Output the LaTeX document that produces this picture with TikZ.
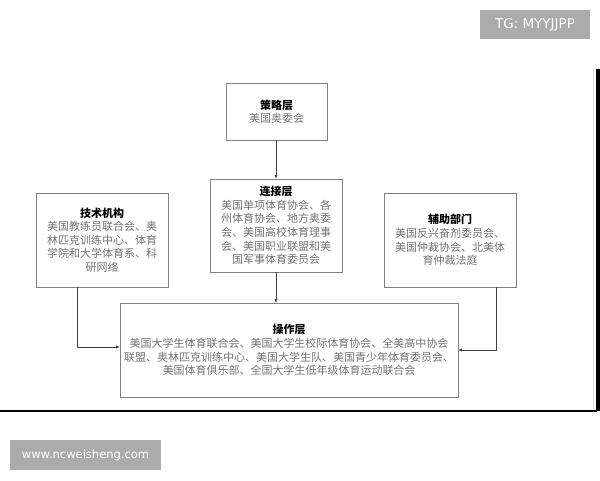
\documentclass[tikz,border=0pt]{standalone}
\usepackage{fontspec}
\newfontfamily\cjk{Noto Sans CJK SC}
\newfontfamily\markfont{DejaVu Sans}
\usepackage{xcolor}
\usepackage{tikz}
\usetikzlibrary{calc,positioning,arrows.meta}

\begin{document}
\begin{tikzpicture}[x=1pt,y=-1pt,
	layerbox/.style={draw=black!50,line width=0.6pt,align=center,inner sep=0pt,
		text=black!55,font=\cjk\fontsize{11}{13.6}\selectfont},
	title/.style={},
	flow/.style={draw=black!75,line width=0.6pt,-{Latex[length=3.5pt,width=3pt]}},
	markbox/.style={fill=black!33,text=white,inner sep=0pt}]
\useasboundingbox (0,0) rectangle (600,480);
		
\node[layerbox,minimum width=101,minimum height=57] (strategy) at (276.5,111.5)
	{{\color{black}\bfseries 策略层}\\美国奥委会};
\node[layerbox,minimum width=132,minimum height=93] (link) at (276,225.5)
	{{\color{black}\bfseries 连接层}\\美国单项体育协会、各\\州体育协会、地方奥委\\会、美国高校体育理事\\会、美国职业联盟和美\\国军事体育委员会};
\node[layerbox,minimum width=132,minimum height=94] (tech) at (102,240)
	{{\color{black}\bfseries 技术机构}\\美国教练员联合会、奥\\林匹克训练中心、体育\\学院和大学体育系、科\\研网络};
\node[layerbox,minimum width=132,minimum height=94] (aux) at (450,240)
	{{\color{black}\bfseries 辅助部门}\\美国反兴奋剂委员会、\\美国仲裁协会、北美体\\育仲裁法庭};
\node[layerbox,minimum width=338,minimum height=94] (ops) at (289,350)
	{{\color{black}\bfseries 操作层}\\美国大学生体育联合会、美国大学生校际体育协会、全美高中协会\\联盟、奥林匹克训练中心、美国大学生队、美国青少年体育委员会、\\美国体育俱乐部、全国大学生低年级体育运动联合会};

\draw[flow] (strategy.south -| link.north) -- (link.north);
\draw[flow] (link.south) -- (link.south |- ops.north);
\draw[flow] ($(tech.south)+(-25,0)$) |- ($(ops.west)+(0,-3)$);
\draw[flow] ($(aux.south)+(46,0)$) |- (ops.east);

% frame edges
\fill[black] (596,69) rectangle (600,411);
\draw[black!15,line width=0.5pt] (593,69) -- (593,409);
\draw[black,line width=1.4pt] (0,411) -- (597,411);

% marks
\node[markbox,minimum width=110,minimum height=29,font=\markfont\fontsize{13.5}{14}\selectfont] (tg) at (535,24.5) {TG: MYYJJPP};
\node[markbox,minimum width=151,minimum height=30,font=\markfont\fontsize{11.5}{12}\selectfont] (web) at (85.5,455) {www.ncweisheng.com};
		
\end{tikzpicture}
\end{document}
